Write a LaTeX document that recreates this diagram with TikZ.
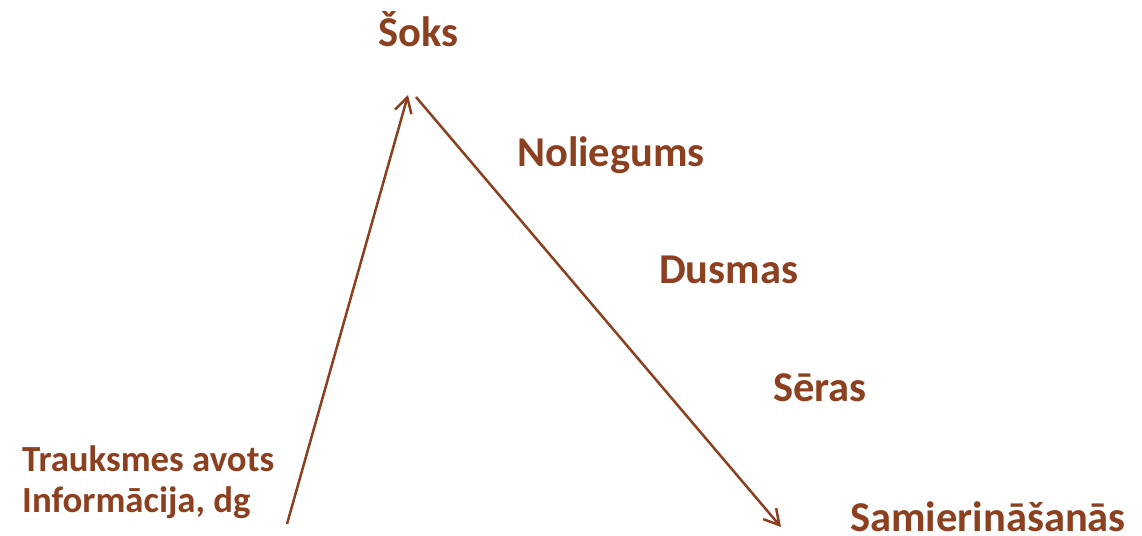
\documentclass[tikz,border=0pt]{standalone}
\usepackage{fontspec}
\setmainfont{Carlito}
\usetikzlibrary{arrows.meta}
\definecolor{brn}{RGB}{140,64,32}
\tikzset{
  lbl/.style={anchor=base west, inner sep=0pt, text depth=0pt, text=brn, font=\fontsize{42.5}{48}\selectfont\bfseries},
  sml/.style={anchor=base west, inner sep=0pt, text=brn, font=\fontsize{36.8}{42}\selectfont\bfseries},
  arr/.style={draw=brn, line width=2.5pt, -{Straight Barb[length=15pt,width=17pt,line width=2.5pt]}}
}
\begin{document}
\begin{tikzpicture}[x=1pt,y=-1pt]
\useasboundingbox (0,0) rectangle (1142,535);
\node[lbl] (soks) at (378,47) {Šoks};
\node[lbl] (nol) at (517,166) {Noliegums};
\node[lbl] (dus) at (659,283) {Dusmas};
\node[lbl] (ser) at (773,401) {Sēras};
\node[sml] (tra) at (22,471) {Trauksmes avots};
\node[sml] (inf) at (22,512) {Informācija, dg};
\node[lbl] (sam) at (850,531) {Samierināšanās};
\coordinate (a1) at (287,524);
\coordinate (a2) at (408,95);
\coordinate (b1) at (416,97);
\coordinate (b2) at (781,527);
\draw[arr] (a1) -- (a2);
\draw[arr] (b1) -- (b2);
\end{tikzpicture}
\end{document}
